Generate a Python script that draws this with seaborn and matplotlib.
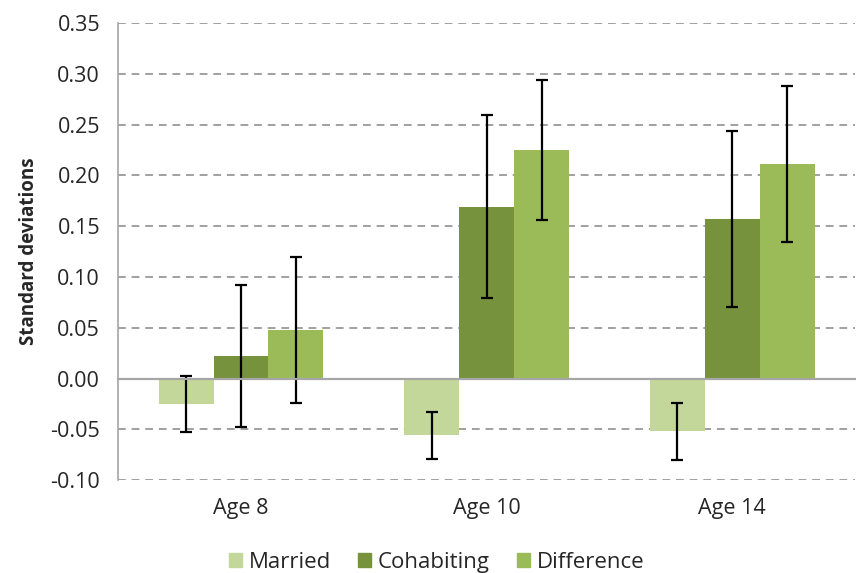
import numpy as np
import pandas as pd
import matplotlib
matplotlib.use("Agg")
import matplotlib.pyplot as plt
import seaborn as sns

# 数据
ages = ["Age 8", "Age 10", "Age 14"]
groups = ["Married", "Cohabiting", "Difference"]
married = [-0.025, -0.056, -0.052]
cohabiting = [0.022, 0.169, 0.157]
difference = [0.048, 0.225, 0.211]
married_err = [0.028, 0.023, 0.028]
cohabiting_err = [0.070, 0.090, 0.087]
difference_err = [0.072, 0.069, 0.077]

colors = ["#c4d79b", "#76923c", "#9bbb59"]

df = pd.DataFrame({
    "age": ages * 3,
    "group": np.repeat(groups, 3),
    "value": married + cohabiting + difference,
    "err": married_err + cohabiting_err + difference_err,
})

sns.set_style("white")
plt.rcParams['font.family'] = ['Open Sans', 'DejaVu Sans']

fig = plt.figure(figsize=(8.56, 5.73), dpi=100)
ax = fig.add_axes([0.138, 0.162, 0.861, 0.798])

sns.barplot(data=df, x="age", y="value", hue="group", order=ages, hue_order=groups,
            palette=colors, saturation=1, width=0.67, gap=0, errorbar=None, ax=ax,
            zorder=3, linewidth=0)

# 误差线
for patch, (_, row) in zip(ax.patches, df.iterrows()):
    cx = patch.get_x() + patch.get_width() / 2
    ax.errorbar(cx, row["value"], yerr=row["err"], color="black", lw=1.6,
                capsize=4.5, capthick=1.6, zorder=4)

ax.set_ylim(-0.10, 0.35)
ax.set_xlim(-0.5, 2.5)
ticks = np.arange(-0.10, 0.351, 0.05)
ax.set_yticks(ticks)
ax.set_yticklabels([f"{v:.2f}" for v in ticks], fontsize=15.5)
ax.yaxis.grid(True, color="#a0a0a0", linestyle=(0, (4, 3)), linewidth=1.4, zorder=0)
ax.set_axisbelow(True)

for s in ["top", "right"]:
    ax.spines[s].set_visible(False)
ax.spines["left"].set_color("#a6a6a6")
ax.spines["left"].set_linewidth(1.2)
ax.spines["bottom"].set_position(("data", 0))
ax.spines["bottom"].set_color("#a6a6a6")
ax.spines["bottom"].set_linewidth(1.6)
ax.spines["bottom"].set_zorder(5)

ax.tick_params(axis="y", direction="out", length=6, color="#a6a6a6", width=1.2, pad=7)
ax.set_xticks([0.5, 1.5, 2.5], minor=True)
ax.tick_params(axis="x", which="minor", direction="out", length=6, color="#a6a6a6", width=1.2)
ax.tick_params(axis="x", which="major", length=0, labelsize=15.5, pad=86)

ax.set_xlabel("")
ax.set_ylabel("Standard deviations", fontsize=13.5, fontweight="bold", labelpad=8)

ax.legend_.remove()
handles = [plt.Rectangle((0, 0), 1, 1, color=c) for c in colors]
fig.legend(handles, groups, loc="lower center", bbox_to_anchor=(0.51, -0.035), ncol=3,
           frameon=False, fontsize=16, handlelength=0.6, handleheight=0.6,
           handletextpad=0.3, columnspacing=1.2)

plt.savefig("out.png", dpi=100)
